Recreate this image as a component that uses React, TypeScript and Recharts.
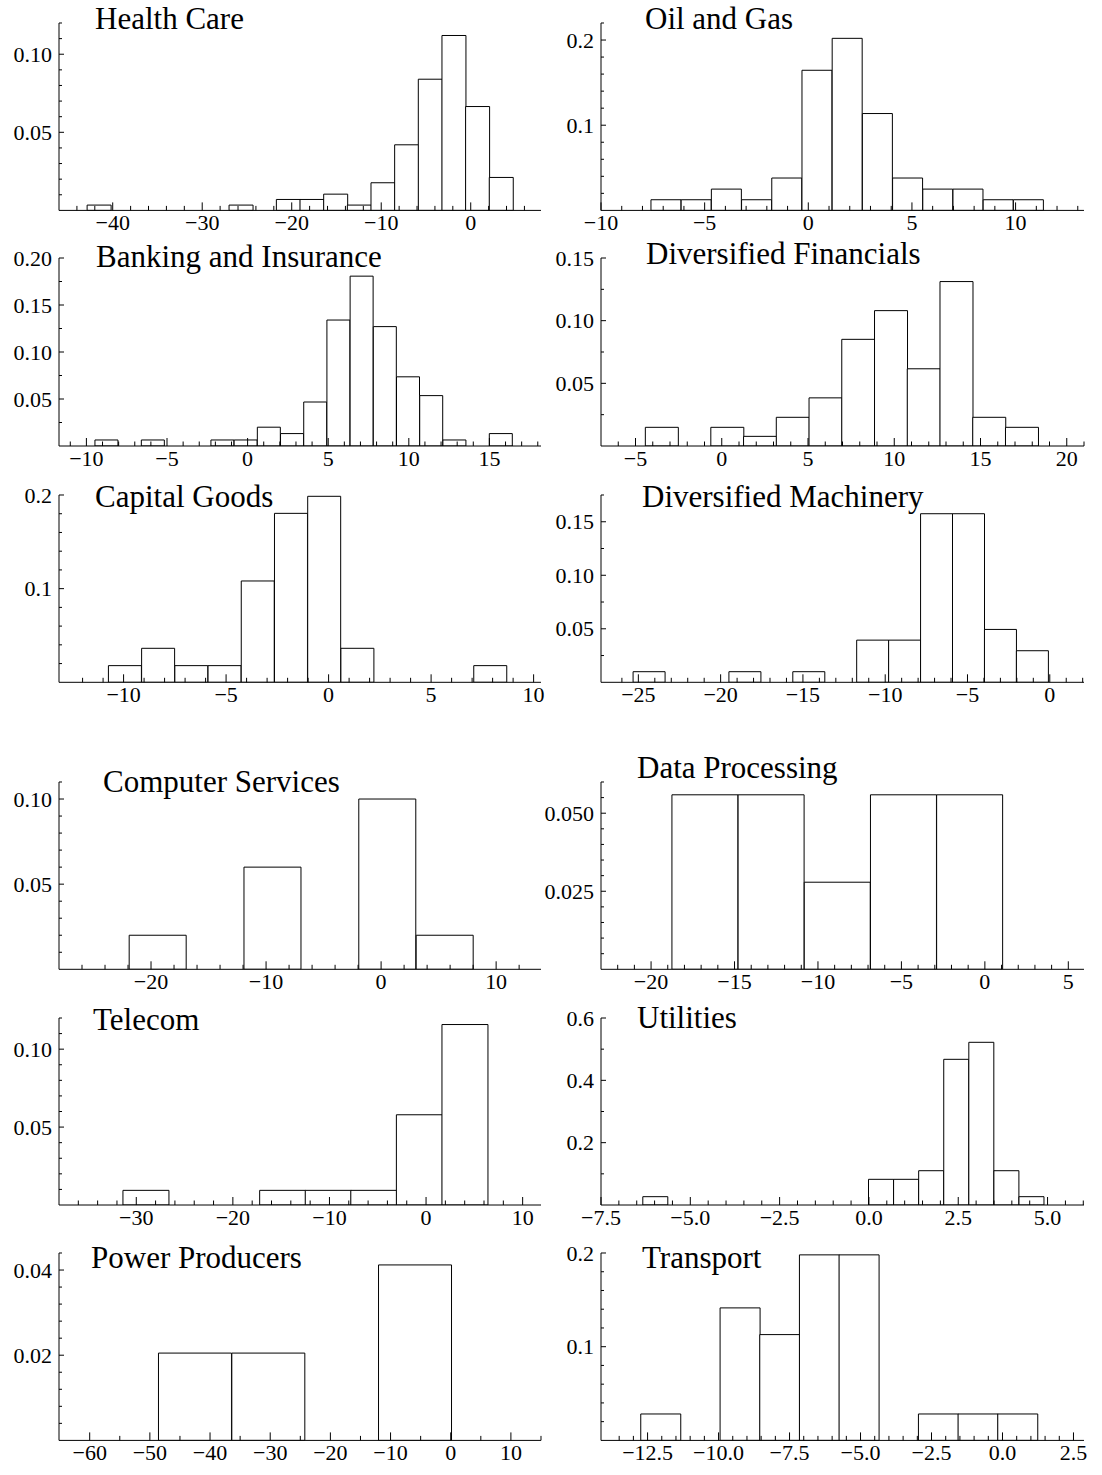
import React from "react";
import { BarChart, Bar, XAxis, YAxis } from "recharts";

const FONT = '"Liberation Serif", "Times New Roman", serif';

// Health Care
const healthCareStart = -42.86;
const healthCareWidth = 2.643;
const healthCareDensity = [0.0034, 0, 0, 0, 0, 0, 0.0034, 0, 0.007, 0.007, 0.0104, 0.0034, 0.0177, 0.042, 0.084, 0.112, 0.0665, 0.0211];
const healthCareXLabels = [-40, -30, -20, -10, 0];
const healthCareYLabels = [0.05, 0.1];

// Oil and Gas
const oilGasStart = -7.59;
const oilGasWidth = 1.457;
const oilGasDensity = [0.0125, 0.0125, 0.025, 0.0125, 0.038, 0.1645, 0.202, 0.1137, 0.038, 0.025, 0.025, 0.0125, 0.0125];
const oilGasXLabels = [-10, -5, 0, 5, 10];
const oilGasYLabels = [0.1, 0.2];

// Banking and Insurance
const bankingStart = -9.47;
const bankingWidth = 1.439;
const bankingDensity = [0.0064, 0, 0.0064, 0, 0, 0.0064, 0.0064, 0.02, 0.0132, 0.0468, 0.134, 0.1807, 0.127, 0.0736, 0.0536, 0.0064, 0, 0.0132];
const bankingXLabels = [-10, -5, 0, 5, 10, 15];
const bankingYLabels = [0.05, 0.1, 0.15, 0.2];

// Diversified Financials
const divFinStart = -4.43;
const divFinWidth = 1.898;
const divFinDensity = [0.0149, 0, 0.0149, 0.0077, 0.0229, 0.0384, 0.0851, 0.108, 0.0616, 0.1312, 0.0229, 0.0149];
const divFinXLabels = [-5, 0, 5, 10, 15, 20];
const divFinYLabels = [0.05, 0.1, 0.15];

// Capital Goods
const capitalStart = -10.74;
const capitalWidth = 1.62;
const capitalDensity = [0.0178, 0.0363, 0.0178, 0.0178, 0.1082, 0.1804, 0.1986, 0.0363, 0, 0, 0, 0.0178];
const capitalXLabels = [-10, -5, 0, 5, 10];
const capitalYLabels = [0.1, 0.2];

// Diversified Machinery
const machineryStart = -25.32;
const machineryWidth = 1.941;
const machineryDensity = [0.0099, 0, 0, 0.0099, 0, 0.0099, 0, 0.0394, 0.0394, 0.1575, 0.1575, 0.0494, 0.0295];
const machineryXLabels = [-25, -20, -15, -10, -5, 0];
const machineryYLabels = [0.05, 0.1, 0.15];

// Computer Services
const computerStart = -21.9;
const computerWidth = 4.99;
const computerDensity = [0.02, 0, 0.06, 0, 0.1, 0.02];
const computerXLabels = [-20, -10, 0, 10];
const computerYLabels = [0.05, 0.1];

// Data Processing
const dataProcStart = -18.75;
const dataProcWidth = 3.965;
const dataProcDensity = [0.0559, 0.0559, 0.0279, 0.0559, 0.0559];
const dataProcXLabels = [-20, -15, -10, -5, 0, 5];
const dataProcYLabels = [0.025, 0.05];

// Telecom
const telecomStart = -31.38;
const telecomWidth = 4.718;
const telecomDensity = [0.0094, 0, 0, 0.0094, 0.0094, 0.0094, 0.0579, 0.1158];
const telecomXLabels = [-30, -20, -10, 0, 10];
const telecomYLabels = [0.05, 0.1];

// Utilities
const utilitiesStart = -6.33;
const utilitiesWidth = 0.702;
const utilitiesDensity = [0.0267, 0, 0, 0, 0, 0, 0, 0, 0, 0.0824, 0.0824, 0.11, 0.4674, 0.522, 0.11, 0.0267];
const utilitiesXLabels = [-7.5, -5, -2.5, 0, 2.5, 5];
const utilitiesYLabels = [0.2, 0.4, 0.6];

// Power Producers
const powerStart = -48.57;
const powerWidth = 12.19;
const powerDensity = [0.0205, 0.0205, 0, 0.0412];
const powerXLabels = [-60, -50, -40, -30, -20, -10, 0, 10];
const powerYLabels = [0.02, 0.04];

// Transport
const transportStart = -12.74;
const transportWidth = 1.397;
const transportDensity = [0.0282, 0, 0.1414, 0.1129, 0.198, 0.198, 0, 0.0282, 0.0282, 0.0282];
const transportXLabels = [-12.5, -10, -7.5, -5, -2.5, 0, 2.5];
const transportYLabels = [0.1, 0.2];

const LEFT_COL: [number, number] = [59, 541];
const RIGHT_COL: [number, number] = [601, 1084];
const ROWS: [number, number][] = [
  [23.3, 210.7],
  [258.3, 446.3],
  [495, 682.3],
  [781.7, 969],
  [1018, 1205],
  [1253.3, 1440.7],
];

type PanelSpec = {
  title: string;
  titleX: number;
  titleY: number;
  col: [number, number];
  row: [number, number];
  start: number;
  width: number;
  density: number[];
  xDomain: [number, number];
  xLabels: number[];
  xMinor: number;
  xDigits: number;
  yMax: number;
  yLabels: number[];
  yMinor: number;
  yDigits: number;
};

const panels: PanelSpec[] = [
  { title: "Health Care", titleX: 95, titleY: 29, col: LEFT_COL, row: ROWS[0], start: healthCareStart, width: healthCareWidth, density: healthCareDensity, xDomain: [-46, 7.85], xLabels: healthCareXLabels, xMinor: 2, xDigits: 0, yMax: 0.12, yLabels: healthCareYLabels, yMinor: 0.01, yDigits: 2 },
  { title: "Oil and Gas", titleX: 645, titleY: 29, col: RIGHT_COL, row: ROWS[0], start: oilGasStart, width: oilGasWidth, density: oilGasDensity, xDomain: [-10, 13.3], xLabels: oilGasXLabels, xMinor: 1, xDigits: 0, yMax: 0.22, yLabels: oilGasYLabels, yMinor: 0.02, yDigits: 1 },
  { title: "Banking and Insurance", titleX: 96, titleY: 267, col: LEFT_COL, row: ROWS[1], start: bankingStart, width: bankingWidth, density: bankingDensity, xDomain: [-11.7, 18.2], xLabels: bankingXLabels, xMinor: 1, xDigits: 0, yMax: 0.2, yLabels: bankingYLabels, yMinor: 0.025, yDigits: 2 },
  { title: "Diversified Financials", titleX: 646, titleY: 264, col: RIGHT_COL, row: ROWS[1], start: divFinStart, width: divFinWidth, density: divFinDensity, xDomain: [-7, 21], xLabels: divFinXLabels, xMinor: 1, xDigits: 0, yMax: 0.15, yLabels: divFinYLabels, yMinor: 0.025, yDigits: 2 },
  { title: "Capital Goods", titleX: 95, titleY: 507, col: LEFT_COL, row: ROWS[2], start: capitalStart, width: capitalWidth, density: capitalDensity, xDomain: [-13.15, 10.36], xLabels: capitalXLabels, xMinor: 1, xDigits: 0, yMax: 0.2, yLabels: capitalYLabels, yMinor: 0.02, yDigits: 1 },
  { title: "Diversified Machinery", titleX: 642, titleY: 507, col: RIGHT_COL, row: ROWS[2], start: machineryStart, width: machineryWidth, density: machineryDensity, xDomain: [-27.27, 2.08], xLabels: machineryXLabels, xMinor: 1, xDigits: 0, yMax: 0.175, yLabels: machineryYLabels, yMinor: 0.025, yDigits: 2 },
  { title: "Computer Services", titleX: 103, titleY: 792, col: LEFT_COL, row: ROWS[3], start: computerStart, width: computerWidth, density: computerDensity, xDomain: [-28, 13.9], xLabels: computerXLabels, xMinor: 2, xDigits: 0, yMax: 0.11, yLabels: computerYLabels, yMinor: 0.01, yDigits: 2 },
  { title: "Data Processing", titleX: 637, titleY: 778, col: RIGHT_COL, row: ROWS[3], start: dataProcStart, width: dataProcWidth, density: dataProcDensity, xDomain: [-23, 5.94], xLabels: dataProcXLabels, xMinor: 1, xDigits: 0, yMax: 0.06, yLabels: dataProcYLabels, yMinor: 0.005, yDigits: 3 },
  { title: "Telecom", titleX: 93, titleY: 1030, col: LEFT_COL, row: ROWS[4], start: telecomStart, width: telecomWidth, density: telecomDensity, xDomain: [-38, 11.9], xLabels: telecomXLabels, xMinor: 2, xDigits: 0, yMax: 0.12, yLabels: telecomYLabels, yMinor: 0.01, yDigits: 2 },
  { title: "Utilities", titleX: 637, titleY: 1028, col: RIGHT_COL, row: ROWS[4], start: utilitiesStart, width: utilitiesWidth, density: utilitiesDensity, xDomain: [-7.5, 6.02], xLabels: utilitiesXLabels, xMinor: 0.5, xDigits: 1, yMax: 0.6, yLabels: utilitiesYLabels, yMinor: 0.1, yDigits: 1 },
  { title: "Power Producers", titleX: 91, titleY: 1268, col: LEFT_COL, row: ROWS[5], start: powerStart, width: powerWidth, density: powerDensity, xDomain: [-65.1, 15], xLabels: powerXLabels, xMinor: 5, xDigits: 0, yMax: 0.044, yLabels: powerYLabels, yMinor: 0.004, yDigits: 2 },
  { title: "Transport", titleX: 642, titleY: 1268, col: RIGHT_COL, row: ROWS[5], start: transportStart, width: transportWidth, density: transportDensity, xDomain: [-14.14, 2.87], xLabels: transportXLabels, xMinor: 0.5, xDigits: 1, yMax: 0.2, yLabels: transportYLabels, yMinor: 0.02, yDigits: 1 },
];

const fmt = (v: number, digits: number) => {
  const s = Math.abs(v).toFixed(digits);
  return v < -1e-9 ? "\u2212" + s : s;
};

const isIn = (list: number[], v: number) => list.some((l) => Math.abs(l - v) < 1e-6);

function buildTicks(lo: number, hi: number, step: number, labels: number[]) {
  const out: number[] = [];
  let v = Math.ceil(lo / step) * step;
  while (v <= hi + 1e-9) {
    const r = Math.round(v * 10000) / 10000;
    if (r - lo > step * 0.3 || isIn(labels, r)) out.push(r);
    v += step;
  }
  labels.forEach((l) => {
    if (!isIn(out, l) && l >= lo && l <= hi) out.push(l);
  });
  return out.sort((a, b) => a - b);
}

function XTick(props: any) {
  const { x, y, payload, labels, digits } = props;
  const major = isIn(labels, payload.value);
  return (
    <g>
      <line x1={x} x2={x} y1={y} y2={y - (major ? 8 : 4.5)} stroke="#000" strokeWidth={1} />
      {major && (
        <text x={x} y={y + 20} textAnchor="middle" fontFamily={FONT} fontSize={22} fill="#000">
          {fmt(payload.value, digits)}
        </text>
      )}
    </g>
  );
}

function YTick(props: any) {
  const { x, y, payload, labels, digits } = props;
  const major = isIn(labels, payload.value);
  return (
    <g>
      <line x1={x} x2={x + (major ? 5 : 3)} y1={y} y2={y} stroke="#000" strokeWidth={1} />
      {major && (
        <text x={x - 7} y={y} dy="0.35em" textAnchor="end" fontFamily={FONT} fontSize={22} fill="#000">
          {fmt(payload.value, digits)}
        </text>
      )}
    </g>
  );
}

function Panel({ p }: { p: PanelSpec }) {
  const data = p.density.map((d, i) => ({ x: p.start + (i + 0.5) * p.width, density: d }));
  const [plotL, plotR] = p.col;
  const [plotT, plotB] = p.row;
  const padL = 62;
  const padR = 14;
  const padT = 20;
  const axisH = 40;
  const w = plotR - plotL + padL + padR;
  const h = plotB - plotT + padT + axisH;
  const xTicks = buildTicks(p.xDomain[0], p.xDomain[1], p.xMinor, p.xLabels);
  const yTicks = buildTicks(0, p.yMax, p.yMinor, p.yLabels).filter((t) => t > 1e-9);
  return (
    <div style={{ position: "absolute", left: plotL - padL, top: plotT - padT }}>
      <BarChart
        width={w}
        height={h}
        data={data}
        margin={{ top: padT, right: padR, bottom: 0, left: 0 }}
        barCategoryGap={0}
        barGap={0}
      >
        <XAxis
          type="number"
          dataKey="x"
          domain={p.xDomain}
          allowDataOverflow
          ticks={xTicks}
          interval={0}
          tickLine={false}
          tickSize={0}
          tickMargin={0}
          height={axisH}
          axisLine={{ stroke: "#000", strokeWidth: 1 }}
          tick={(tp: any) => <XTick {...tp} labels={p.xLabels} digits={p.xDigits} />}
        />
        <YAxis
          type="number"
          domain={[0, p.yMax]}
          allowDataOverflow
          ticks={yTicks}
          interval={0}
          tickLine={false}
          tickSize={0}
          tickMargin={0}
          width={padL}
          axisLine={{ stroke: "#000", strokeWidth: 1 }}
          tick={(tp: any) => <YTick {...tp} labels={p.yLabels} digits={p.yDigits} />}
        />
        <Bar dataKey="density" fill="#fff" stroke="#000" strokeWidth={1} isAnimationActive={false} />
      </BarChart>
    </div>
  );
}

export default function App() {
  return (
    <div style={{ position: "absolute", left: 0, top: 0, width: 1102, height: 1475, background: "#fff" }}>
      {panels.map((p) => (
        <Panel key={p.title} p={p} />
      ))}
      <svg width={1102} height={1475} style={{ position: "absolute", left: 0, top: 0, pointerEvents: "none" }}>
        {panels.map((p) => (
          <text key={p.title} x={p.titleX} y={p.titleY} fontFamily={FONT} fontSize={31} fill="#000">
            {p.title}
          </text>
        ))}
      </svg>
    </div>
  );
}
